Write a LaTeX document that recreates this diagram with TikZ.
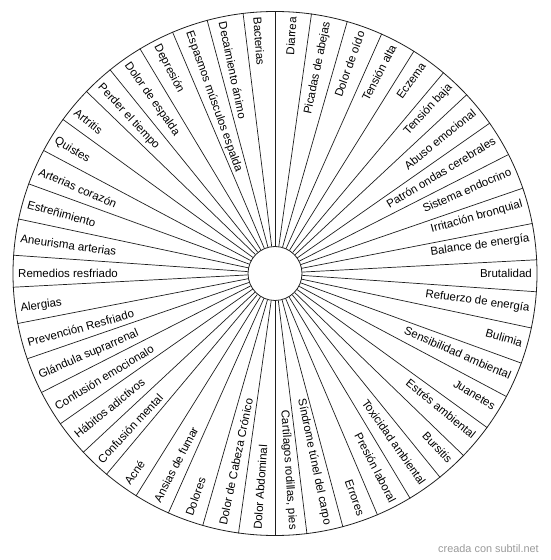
\documentclass[tikz,border=0pt]{standalone}
\usepackage{fontspec}
\setmainfont{Liberation Sans}
\usetikzlibrary{calc}
\definecolor{ink}{HTML}{1E1E1E}
\definecolor{credit}{HTML}{9A9A9A}
\tikzset{
  every node/.style={font=\fontsize{11.5}{13}\selectfont},
  ring/.style ={circle, draw=ink, line width=0.8pt, inner sep=0pt},
  spoke/.style={draw=ink, line width=0.7pt},
  lblR/.style ={inner sep=0pt, anchor=east},   % right half: reads outwards
  lblL/.style ={inner sep=0pt, anchor=west},   % left half: reads inwards
}
\begin{document}
\begin{tikzpicture}[x=1pt, y=1pt]
\useasboundingbox (0,0) rectangle (550,560);
\coordinate (c) at (275,286.5);

\node[ring, minimum size=524pt] (rim) at (c) {};
\node[ring, fill=white, minimum size=54pt] (hub) at (c) {};

% 46 sectors, one spoke on every border
\foreach \k in {0,...,45}{
  \pgfmathsetmacro\b{90+\k*360/46}
  \draw[spoke] (hub.\b) -- (rim.\b);
}

% labels, clockwise from the top
\foreach \t [count=\i] in {Diarrea, Picadas de abejas, Dolor de oído, Tensión alta,
    Eczema, Tensión baja, Abuso emocional, Patrón ondas cerebrales,
    Sistema endocrino, Irritación bronquial, Balance de energía, Brutalidad,
    Refuerzo de energía, Bulimia, Sensibilidad ambiental, Juanetes,
    Estrés ambiental, Bursitis, Toxicidad ambiental, Presión laboral, Errores,
    Síndrome túnel del carpo, {Cartílagos rodillas, pies}, Dolor Abdominal,
    Dolor de Cabeza Crónico, Dolores, Ansias de fumar, Acné, Confusión mental,
    Hábitos adictivos, Confusión emocionalo, Glándula suprarrenal,
    Prevención Resfriado, Alergias, Remedios resfriado, Aneurisma arterias,
    Estreñimiento, Arterias corazón, Quistes, Artritis, Perder el tiempo,
    Dolor de espalda, Depresión, Espasmos músculos espalda, Decaimiento ánimo,
    Bacterias}{
  \pgfmathsetmacro\a{90-(\i-0.5)*360/46}
  \ifnum\i<24
    \node[lblR, rotate=\a] (lab\i) at ($(c)+(\a:257)$) {\t};
  \else
    \node[lblL, rotate=\a+180] (lab\i) at ($(c)+(\a:257)$) {\t};
  \fi
}

\node[font=\fontsize{10.9}{12}\selectfont, text=credit] (site) at (488.5,11)
  {creada con subtil.net};

\end{tikzpicture}
\end{document}
